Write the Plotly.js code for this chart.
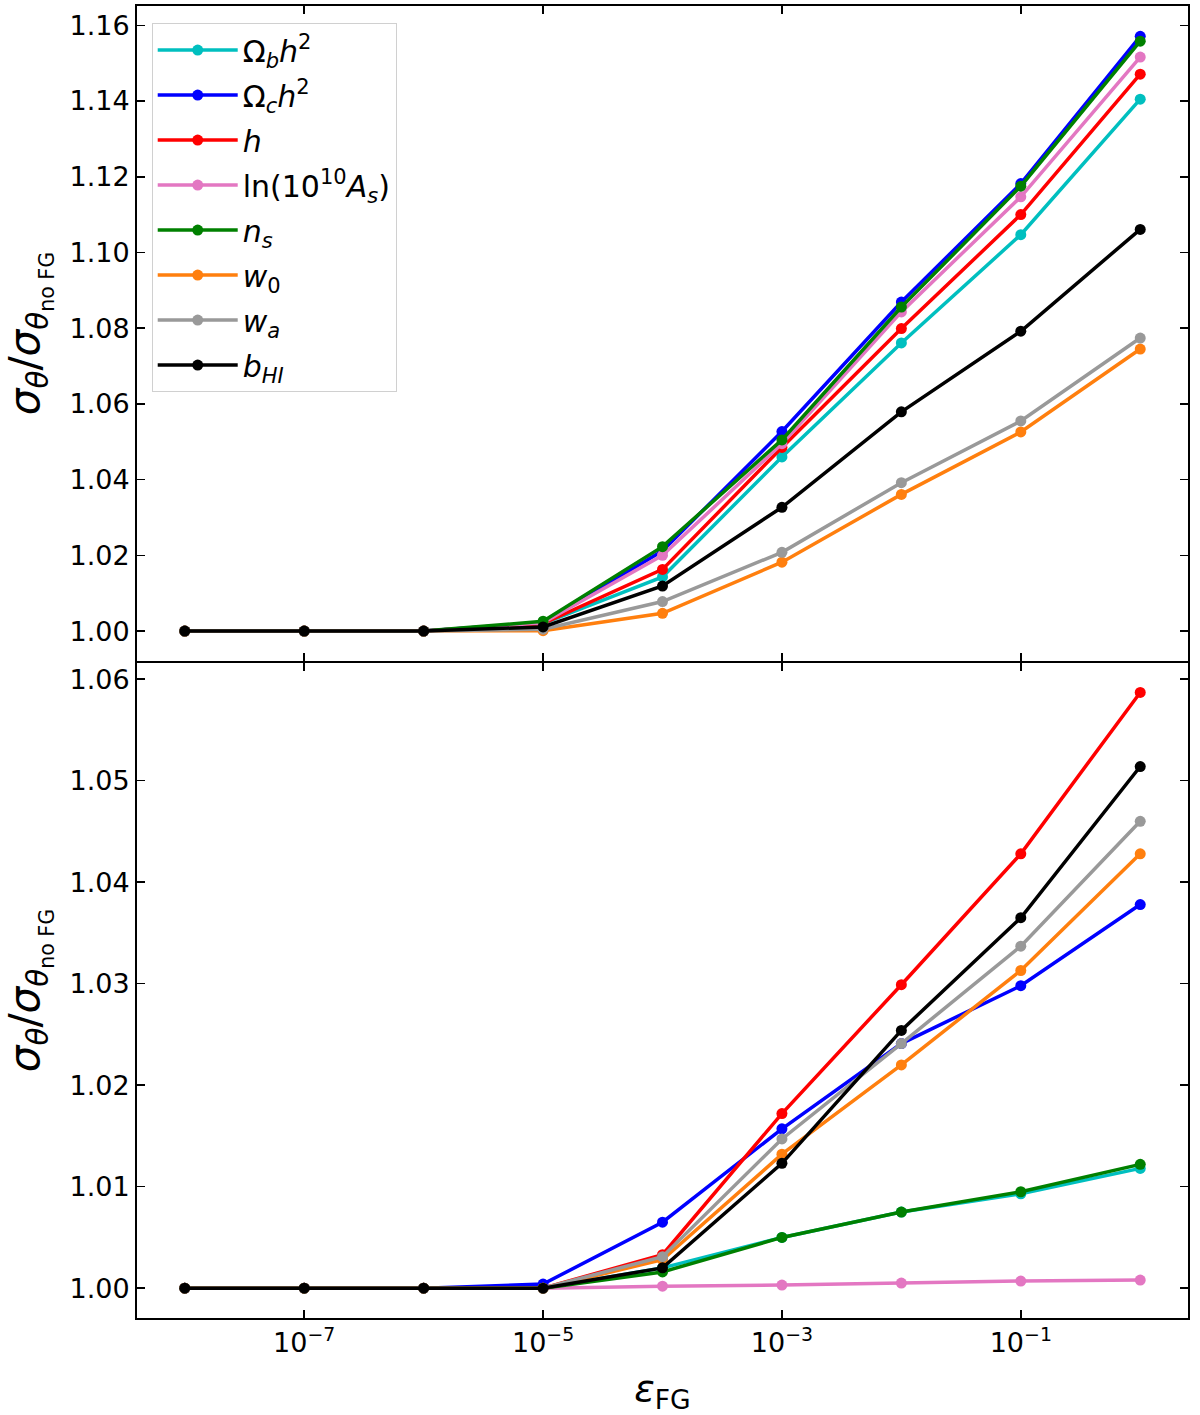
<!DOCTYPE html>
<html>
<head>
<meta charset="utf-8">
<script src="https://cdn.plot.ly/plotly-3.0.1.min.js"></script>
<style>
  html, body { margin: 0; padding: 0; background: #fff; }
  #chart { width: 1200px; height: 1415px; }
</style>
</head>
<body>
<div id="chart"></div>
<script>
/* =========================
   DATA
========================= */
const epsFG = [1e-8, 1e-7, 1e-6, 1e-5, 1e-4, 1e-3, 1e-2, 1e-1, 1];

const names = [
  "Ω<sub><i>b</i></sub><i>h</i><sup>2</sup>",
  "Ω<sub><i>c</i></sub><i>h</i><sup>2</sup>",
  "<i>h</i>",
  "ln(10<sup>10</sup><i>A</i><sub><i>s</i></sub>)",
  "<i>n</i><sub><i>s</i></sub>",
  "<i>w</i><sub>0</sub>",
  "<i>w</i><sub><i>a</i></sub>",
  "<i>b</i><sub><i>HI</i></sub>"
];
const colors = ["#00bfbf", "#0000ff", "#ff0000", "#e377c2", "#008000", "#ff7f0e", "#999999", "#000000"];

// top panel
const topOmegaB = [1, 1, 1, 1.0020, 1.0143, 1.0460, 1.0761, 1.1047, 1.1405];
const topOmegaC = [1, 1, 1, 1.0022, 1.0212, 1.0527, 1.0869, 1.1182, 1.1571];
const topH      = [1, 1, 1, 1.0020, 1.0163, 1.0485, 1.0799, 1.1100, 1.1471];
const topLnAs   = [1, 1, 1, 1.0022, 1.0200, 1.0495, 1.0843, 1.1147, 1.1516];
const topNs     = [1, 1, 1, 1.0026, 1.0223, 1.0505, 1.0856, 1.1175, 1.1558];
const topW0     = [1, 1, 1, 1.0001, 1.0047, 1.0182, 1.0361, 1.0526, 1.0745];
const topWa     = [1, 1, 1, 1.0005, 1.0078, 1.0208, 1.0392, 1.0555, 1.0774];
const topBHI    = [1, 1, 1, 1.0011, 1.0119, 1.0327, 1.0579, 1.0792, 1.1061];

// bottom panel
const botOmegaB = [1, 1, 1, 1.0000, 1.0020, 1.0050, 1.0075, 1.0093, 1.0118];
const botOmegaC = [1, 1, 1, 1.0004, 1.0065, 1.0157, 1.0241, 1.0298, 1.0378];
const botH      = [1, 1, 1, 1.0000, 1.0033, 1.0172, 1.0299, 1.0428, 1.0587];
const botLnAs   = [1, 1, 1, 1.0000, 1.0002, 1.0003, 1.0005, 1.0007, 1.0008];
const botNs     = [1, 1, 1, 1.0000, 1.0016, 1.0050, 1.0075, 1.0095, 1.0122];
const botW0     = [1, 1, 1, 1.0000, 1.0028, 1.0132, 1.0220, 1.0313, 1.0428];
const botWa     = [1, 1, 1, 1.0000, 1.0031, 1.0147, 1.0241, 1.0337, 1.0460];
const botBHI    = [1, 1, 1, 1.0000, 1.0020, 1.0123, 1.0254, 1.0365, 1.0514];

const topSeries = [topOmegaB, topOmegaC, topH, topLnAs, topNs, topW0, topWa, topBHI];
const botSeries = [botOmegaB, botOmegaC, botH, botLnAs, botNs, botW0, botWa, botBHI];

const xTickVals = [1e-7, 1e-5, 1e-3, 1e-1];
const xTickText = ["10<sup>−7</sup>", "10<sup>−5</sup>", "10<sup>−3</sup>", "10<sup>−1</sup>"];
const topYTicks = [1.00, 1.02, 1.04, 1.06, 1.08, 1.10, 1.12, 1.14, 1.16];
const botYTicks = [1.00, 1.01, 1.02, 1.03, 1.04, 1.05, 1.06];

window.addEventListener("DOMContentLoaded", () => {

  /* =========================
     TRACES
  ========================= */
  const traces = [];

  topSeries.forEach((ys, i) => {
    traces.push({
      x: epsFG, y: ys,
      xaxis: "x2", yaxis: "y2",
      name: names[i],
      legendgroup: "g" + i,
      mode: "lines+markers",
      line: { color: colors[i], width: 3.5 },
      marker: { color: colors[i], size: 11 }
    });
  });

  botSeries.forEach((ys, i) => {
    traces.push({
      x: epsFG, y: ys,
      xaxis: "x", yaxis: "y",
      name: names[i],
      legendgroup: "g" + i,
      showlegend: false,
      mode: "lines+markers",
      line: { color: colors[i], width: 3.5 },
      marker: { color: colors[i], size: 11 }
    });
  });

  /* =========================
     AXES
  ========================= */
  const tickFont = { family: "DejaVu Sans", size: 27, color: "#000" };
  const yTitle = "<i>σ</i><sub><i>θ</i></sub>/<i>σ</i><sub><i>θ</i><sub>no FG</sub></sub>";

  // small gap so the two shared borders sit on one line
  const gap = 1 / 1312;

  const common = {
    showline: true, linecolor: "#000", linewidth: 2, mirror: "ticks",
    ticks: "inside", ticklen: 8, tickwidth: 1.5, tickcolor: "#000",
    showgrid: false, zeroline: false, tickfont: tickFont
  };

  const layout = {
    width: 1200, height: 1415,
    margin: { l: 137, r: 12, t: 6, b: 97 },
    paper_bgcolor: "#fff", plot_bgcolor: "#fff",
    font: { family: "DejaVu Sans", color: "#000" },
    showlegend: true,
    legend: {
      x: 0.014, y: 0.987, xanchor: "left", yanchor: "top",
      bgcolor: "#fff", bordercolor: "#d0d0d0", borderwidth: 1,
      font: { family: "DejaVu Sans", size: 30, color: "#000" },
      traceorder: "grouped", tracegroupgap: 3, itemwidth: 80
    },
    xaxis: Object.assign({}, common, {
      type: "log", range: [-8.4, 0.4], anchor: "y",
      tickvals: xTickVals, ticktext: xTickText,
      title: { text: "<i>ε</i><sub>FG</sub>", font: { family: "DejaVu Sans", size: 38 }, standoff: 20 }
    }),
    xaxis2: Object.assign({}, common, {
      type: "log", range: [-8.4, 0.4], anchor: "y2", matches: "x",
      tickvals: xTickVals, showticklabels: false
    }),
    yaxis: Object.assign({}, common, {
      domain: [0, 0.5 - gap], anchor: "x", range: [0.99706, 1.0616],
      tickvals: botYTicks, tickformat: ".2f",
      title: { text: yTitle, font: { family: "DejaVu Sans", size: 42 }, standoff: 24 }
    }),
    yaxis2: Object.assign({}, common, {
      domain: [0.5 + gap, 1], anchor: "x2", range: [0.9921, 1.1651],
      tickvals: topYTicks, tickformat: ".2f",
      title: { text: yTitle, font: { family: "DejaVu Sans", size: 42 }, standoff: 24 }
    })
  };

  Plotly.newPlot("chart", traces, layout, { displayModeBar: false, staticPlot: true });
});
</script>
</body>
</html>
